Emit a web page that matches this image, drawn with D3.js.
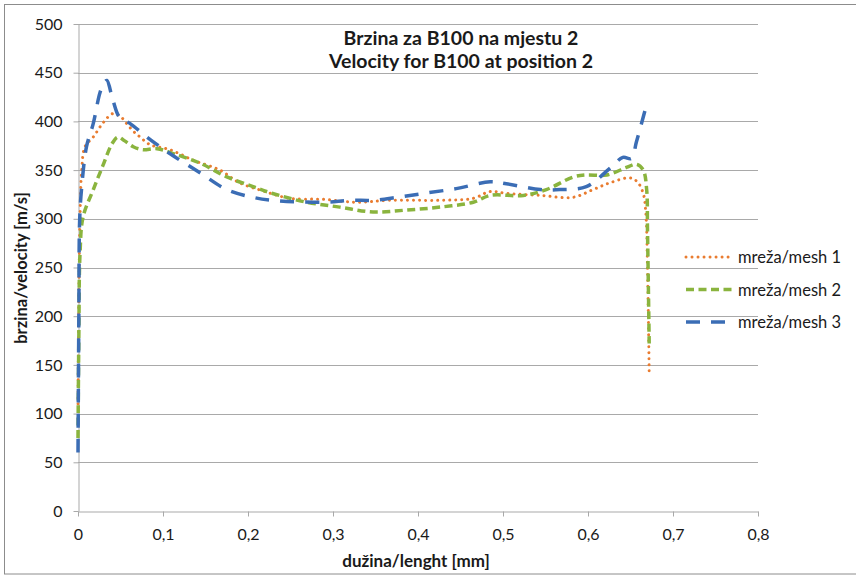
<!DOCTYPE html>
<html>
<head>
<meta charset="utf-8">
<script src="https://cdn.jsdelivr.net/npm/d3@7"></script>
<style>
  html, body { margin: 0; padding: 0; background: #fff; }
  svg { display: block; font-family: Lato, "Open Sans", sans-serif; }
</style>
</head>
<body>
<svg id="chart" width="856" height="576"></svg>
<script>
// Velocity profiles along the length for three mesh resolutions
const titleLines = ["Brzina za B100 na mjestu 2", "Velocity for B100 at position 2"];
const xLabel = "dužina/lenght [mm]";
const yLabel = "brzina/velocity [m/s]";
const seriesNames = ["mreža/mesh 1", "mreža/mesh 2", "mreža/mesh 3"];

const xTicks = [0, 0.1, 0.2, 0.3, 0.4, 0.5, 0.6, 0.7, 0.8];
const yTicks = [0, 50, 100, 150, 200, 250, 300, 350, 400, 450, 500];

// mesh 1
const mesh1X = [0, 0.001, 0.0024, 0.0044, 0.0082, 0.018, 0.029, 0.041, 0.05, 0.057, 0.065, 0.073, 0.085, 0.108, 0.136, 0.167, 0.19, 0.22, 0.249, 0.288, 0.328, 0.367, 0.426, 0.465, 0.485, 0.505, 0.544, 0.582, 0.606, 0.626, 0.649, 0.658, 0.665, 0.668, 0.670, 0.672];
const mesh1Y = [110, 220, 302, 350, 374, 384, 398, 408, 405, 398, 390, 384, 376, 371, 360, 350, 337, 328, 321, 320, 317, 319, 319, 321, 328, 326, 324, 322, 330, 337, 342, 338, 326, 306, 250, 140];

// mesh 2
const mesh2X = [0, 0.001, 0.0024, 0.006, 0.018, 0.029, 0.04, 0.047, 0.055, 0.065, 0.076, 0.093, 0.112, 0.144, 0.175, 0.206, 0.229, 0.269, 0.308, 0.347, 0.387, 0.426, 0.465, 0.485, 0.524, 0.551, 0.583, 0.598, 0.622, 0.646, 0.657, 0.665, 0.669, 0.670, 0.672];
const mesh2Y = [75, 180, 265, 302, 330, 354, 377, 384, 380, 374, 371, 372, 367, 357, 343, 333, 326, 317, 312, 307, 309, 312, 317, 324, 324, 330, 343, 345, 345, 353, 356, 350, 330, 288, 172];

// mesh 3
const mesh3X = [0, 0.001, 0.002, 0.0044, 0.010, 0.018, 0.026, 0.031, 0.034, 0.041, 0.049, 0.061, 0.081, 0.108, 0.144, 0.175, 0.206, 0.229, 0.288, 0.32, 0.347, 0.375, 0.406, 0.445, 0.485, 0.504, 0.544, 0.567, 0.598, 0.626, 0.641, 0.651, 0.657, 0.667, 0.669];
const mesh3Y = [60, 200, 300, 333, 374, 398, 430, 440, 442, 422, 404, 398, 384, 367, 347, 330, 322, 319, 317, 319, 319, 322, 326, 331, 338, 336, 330, 330, 333, 352, 363, 362, 379, 411, 417];

const series = [
  { name: seriesNames[0], xs: mesh1X, ys: mesh1Y, color: "#E97C30", width: 3, dash: "0.01,6", cap: "round" },
  { name: seriesNames[1], xs: mesh2X, ys: mesh2Y, color: "#8AB43E", width: 3.5, dash: "8,4.5", cap: "butt" },
  { name: seriesNames[2], xs: mesh3X, ys: mesh3Y, color: "#3B6DB5", width: 3.5, dash: "14,11", cap: "butt" }
];

const svg = d3.select("#chart");
const gridColor = "#a9a9a9";
const textColor = "#1a1a1a";

// outer chart frame
svg.append("rect")
  .attr("x", 4.5).attr("y", 4.5)
  .attr("width", 860).attr("height", 569.5)
  .attr("fill", "#fff").attr("stroke", "#8c8c8c").attr("stroke-width", 1);

const x = d3.scaleLinear().domain([0, 0.8]).range([78, 758]);
const y = d3.scaleLinear().domain([0, 500]).range([511, 24]);

// horizontal gridlines
svg.append("g")
  .selectAll("line")
  .data(yTicks.filter(d => d > 0))
  .join("line")
  .attr("x1", x(0)).attr("x2", x(0.8))
  .attr("y1", d => Math.round(y(d)) + 0.5).attr("y2", d => Math.round(y(d)) + 0.5)
  .attr("stroke", gridColor).attr("stroke-width", 1);

const fmt = d => d3.format(".1~f")(d).replace(".", ",");

// x axis
const xAxis = svg.append("g")
  .attr("transform", `translate(0,${Math.round(y(0)) + 0.5})`)
  .call(d3.axisBottom(x).tickValues(xTicks).tickFormat(fmt).tickSize(5).tickSizeOuter(0).tickPadding(12));
xAxis.select(".domain").attr("stroke", gridColor);
xAxis.selectAll(".tick line").attr("stroke", gridColor);
xAxis.selectAll(".tick text").attr("font-size", 16).attr("fill", textColor).style("font-family", "Lato, sans-serif");

// y axis
const yAxis = svg.append("g")
  .attr("transform", `translate(${Math.round(x(0)) + 0.5},0)`)
  .call(d3.axisLeft(y).tickValues(yTicks).tickFormat(d3.format("d")).tickSize(5).tickSizeOuter(0).tickPadding(11));
yAxis.select(".domain").attr("stroke", gridColor);
yAxis.selectAll(".tick line").attr("stroke", gridColor);
yAxis.selectAll(".tick text").attr("font-size", 16).attr("fill", textColor).style("font-family", "Lato, sans-serif");

// data lines
const line = d3.line()
  .x(d => x(d[0]))
  .y(d => y(d[1]))
  .curve(d3.curveCatmullRom.alpha(0.5));

svg.append("g")
  .selectAll("path")
  .data(series)
  .join("path")
  .attr("d", s => line(s.xs.map((v, i) => [v, s.ys[i]])))
  .attr("fill", "none")
  .attr("stroke", s => s.color)
  .attr("stroke-width", s => s.width)
  .attr("stroke-dasharray", s => s.dash)
  .attr("stroke-linecap", s => s.cap)
  .attr("stroke-linejoin", "round");

// title
svg.append("text")
  .attr("x", 461).attr("y", 0)
  .attr("text-anchor", "middle")
  .attr("font-size", 19.5).attr("font-weight", "bold").attr("fill", textColor)
  .selectAll("tspan")
  .data(titleLines)
  .join("tspan")
  .attr("x", 461)
  .attr("y", (d, i) => 45 + i * 22.5)
  .text(d => d);

// axis titles
svg.append("text")
  .attr("x", 416).attr("y", 567)
  .attr("text-anchor", "middle")
  .attr("font-size", 17).attr("font-weight", "bold").attr("fill", textColor)
  .text(xLabel);

svg.append("text")
  .attr("transform", "translate(27,268) rotate(-90)")
  .attr("text-anchor", "middle")
  .attr("font-size", 16.5).attr("font-weight", "bold").attr("fill", textColor)
  .text(yLabel);

// legend
const legend = svg.append("g")
  .selectAll("g")
  .data(series)
  .join("g")
  .attr("transform", (d, i) => `translate(686,${257 + i * 32.5})`);

legend.append("line")
  .attr("x1", 0).attr("x2", 46)
  .attr("stroke", d => d.color)
  .attr("stroke-width", d => d.width)
  .attr("stroke-dasharray", d => d.dash)
  .attr("stroke-linecap", d => d.cap);

legend.append("text")
  .attr("x", 52).attr("y", 6)
  .attr("font-size", 16.5).attr("fill", textColor)
  .text(d => d.name);
</script>
</body>
</html>
